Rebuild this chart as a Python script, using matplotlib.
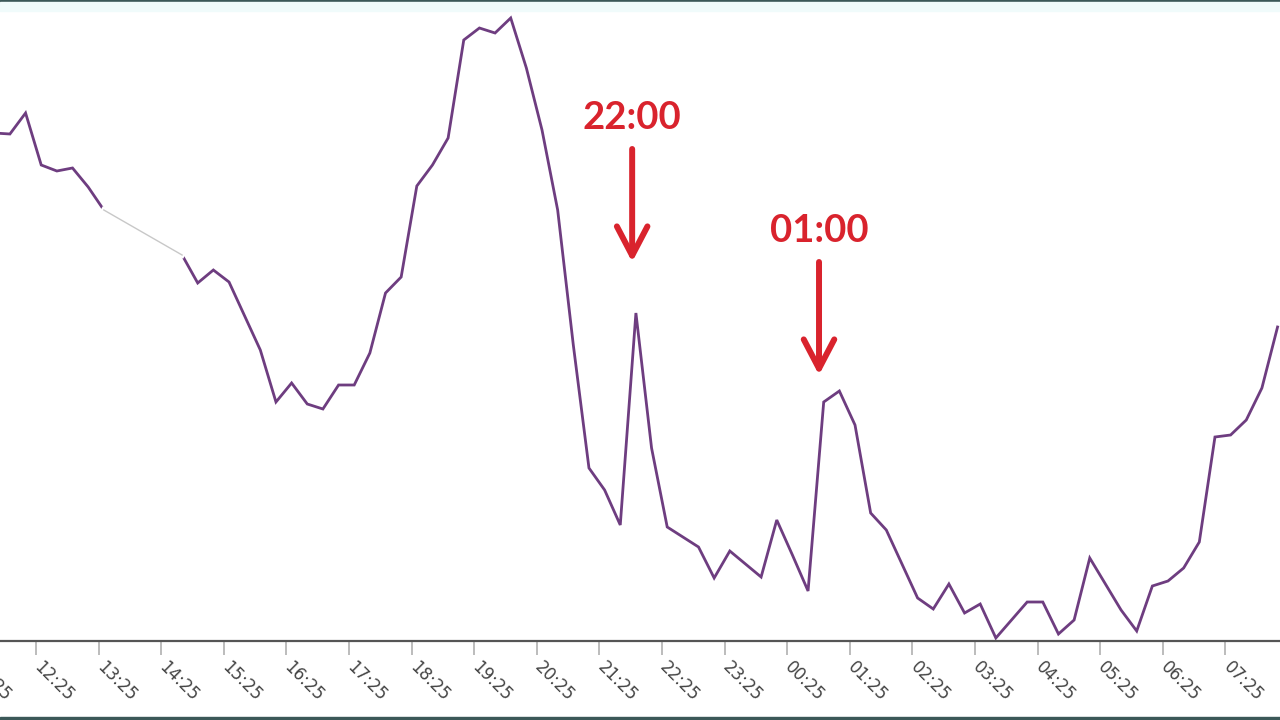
import numpy as np
import matplotlib.pyplot as plt
import matplotlib.transforms as mtransforms

# 15-minute samples, starting 11:45 (hours, past midnight = +24)
inicio = 11.75
passo = 0.25
valores = [508, 507, 528, 476, 470, 473, 454, 431, 422, 413, 404, 395, 386, 358, 371, 359,
           325, 291, 239, 258, 237, 232, 256, 256, 288, 348, 364, 455, 476, 503, 601, 613,
           608, 623, 573, 511, 431, 296, 173, 151, 116, 328, 193, 114, 104, 94, 63, 90,
           77, 64, 121, 86, 50, 239, 250, 216, 128, 111, 77, 43, 32, 57, 28, 37,
           3, 21, 39, 39, 7, 21, 83, 57, 31, 10, 55, 60, 73, 99, 204, 206,
           221, 253, 314]
horas = inicio + passo * np.arange(len(valores))

# hourly ticks; the first one (11:25) sits just off the left edge
rotulos = ['11:25', '12:25', '13:25', '14:25', '15:25', '16:25', '17:25', '18:25', '19:25',
           '20:25', '21:25', '22:25', '23:25', '00:25', '01:25', '02:25', '03:25', '04:25',
           '05:25', '06:25', '07:25']
ticks = 11 + 25 / 60 + np.arange(len(rotulos))

marcas = ['22:00', '01:00']
marcas_x = [21.94, 24.925]
marcas_topo = [523, 410]

fig = plt.figure(figsize=(12.8, 7.2), dpi=100)
ax = fig.add_axes([0, 79 / 720, 1, 641 / 720])

ax.plot(horas, valores, color='#6e3d80', lw=2.0, solid_joinstyle='miter')
# the washed-out stretch on the left of the original
ax.plot(horas[7:13], valores[7:13], color='white', lw=4)
ax.plot(horas[7:13], valores[7:13], color='#c8c8c8', lw=1)

ax.set_xlim(11.8416, 32.289)
ax.set_ylim(0, 641)

for s in ['top', 'left', 'right']:
    ax.spines[s].set_visible(False)
ax.spines['bottom'].set_color('#555555')
ax.spines['bottom'].set_linewidth(1.6)
ax.set_yticks([])

ax.set_xticks(ticks[1:])
ax.set_xticklabels([])
ax.tick_params(axis='x', length=10, width=1.2, color='#b0b0b0')

# rotated labels, drawn by hand so they start just right of each tick
trans = mtransforms.blended_transform_factory(ax.transData, ax.transAxes)
desloc = mtransforms.ScaledTranslation(7 / 100, -17 / 100, fig.dpi_scale_trans)
for t, r in zip(ticks, rotulos):
    ax.text(t, 0, r, rotation=-45, ha='left', va='top', rotation_mode='anchor',
            fontsize=12, color='#444444', clip_on=False, transform=trans + desloc)

for texto, x, y in zip(marcas, marcas_x, marcas_topo):
    ax.text(x, y, texto, ha='center', va='center', fontsize=27.5, fontweight='bold',
            family='Lato', color='#d9232d')
    ax.annotate('', xy=(x, y - 144), xytext=(x, y - 31),
                arrowprops=dict(arrowstyle='->,head_length=1.05,head_width=0.55',
                                color='#d9232d', lw=4.3, mutation_scale=20,
                                shrinkA=0, shrinkB=0))

# thin frame lines top and bottom
fig.add_artist(plt.Rectangle((0, 0.997), 1, 0.003, transform=fig.transFigure, color='#3b5858'))
fig.add_artist(plt.Rectangle((0, 0.985), 1, 0.012, transform=fig.transFigure, color='#f0fbfb'))
fig.add_artist(plt.Rectangle((0, 0), 1, 0.004, transform=fig.transFigure, color='#3b5858'))

fig.savefig('out.png', dpi=100)
